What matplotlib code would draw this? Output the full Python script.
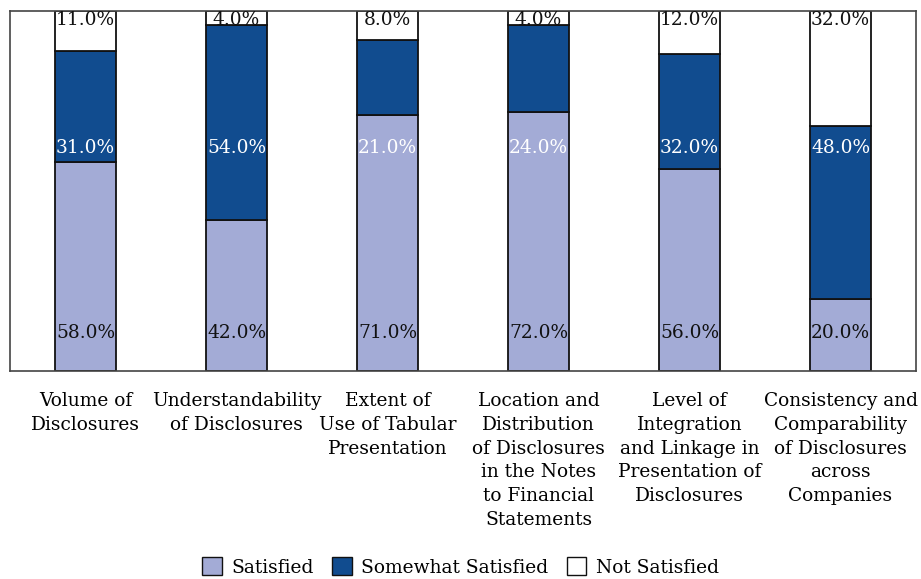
import matplotlib
matplotlib.use("Agg")
import matplotlib.pyplot as plt
from matplotlib.patches import Patch

categories = [
    "Volume of\nDisclosures",
    "Understandability\nof Disclosures",
    "Extent of\nUse of Tabular\nPresentation",
    "Location and\nDistribution\nof Disclosures\nin the Notes\nto Financial\nStatements",
    "Level of\nIntegration\nand Linkage in\nPresentation of\nDisclosures",
    "Consistency and\nComparability\nof Disclosures\nacross\nCompanies",
]
satisfied = [58.0, 42.0, 71.0, 72.0, 56.0, 20.0]
somewhat = [31.0, 54.0, 21.0, 24.0, 32.0, 48.0]
not_satisfied = [11.0, 4.0, 8.0, 4.0, 12.0, 32.0]
series_names = ["Satisfied", "Somewhat Satisfied", "Not Satisfied"]
colors = ["#A3ABD6", "#114C8F", "#FFFFFF"]
text_colors = ["#111111", "#FFFFFF", "#111111"]
label_y = [10.5, 62.0, 97.4]

FS = 13.4
plt.rcParams['font.family'] = ['DejaVu Serif']
fig = plt.figure(figsize=(9.21, 5.79), dpi=100)
ax = fig.add_axes([10/921, 1 - 371/579, 906/921, 360/579])

x = list(range(len(categories)))
width = 0.4
bottom = [0.0] * len(x)
for vals, col, tc, ly, name in zip([satisfied, somewhat, not_satisfied], colors, text_colors, label_y, series_names):
    ax.bar(x, vals, width, bottom=bottom, color=col, edgecolor="#111111", linewidth=1.3, label=name)
    for xi, v in zip(x, vals):
        ax.text(xi, ly, f"{v:.1f}%", ha="center", va="center", fontsize=FS, color=tc)
    bottom = [b + v for b, v in zip(bottom, vals)]

ax.set_xlim(-0.5, len(x) - 0.5)
ax.set_ylim(0, 100)
ax.set_yticks([])
ax.set_xticks(x)
ax.set_xticklabels(categories, fontsize=FS, linespacing=1.42, va="top")
ax.tick_params(axis="x", length=0, pad=15)
for s in ax.spines.values():
    s.set_color("#444444")
    s.set_linewidth(1.2)

handles = [Patch(facecolor=c, edgecolor="#111111", linewidth=1.0, label=n) for c, n in zip(colors, series_names)]
fig.legend(handles=handles, loc="center", bbox_to_anchor=(0.5, 1 - 567/579), ncol=3, frameon=False,
           fontsize=FS, handlelength=1.05, handleheight=1.1, handletextpad=0.5, columnspacing=1.0)

fig.savefig("out.png", dpi=100)
